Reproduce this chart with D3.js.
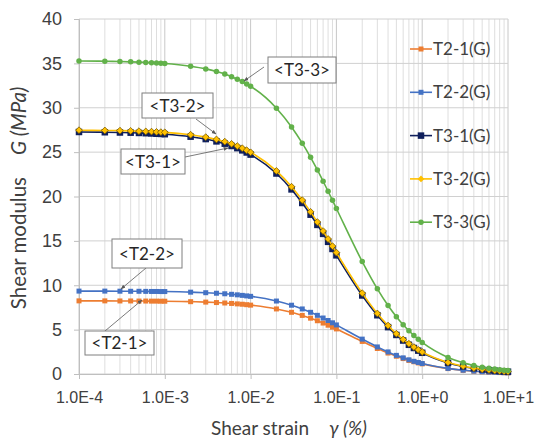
<!DOCTYPE html>
<html><head><meta charset="utf-8">
<script src="https://cdn.jsdelivr.net/npm/d3@7"></script>
<style>body{margin:0;background:#fff}svg{font-family:Lato,"Open Sans",sans-serif}</style>
</head><body><svg id="c" width="535" height="444"></svg>
<script>
// ---- data ----
const strains = [0.0001,0.0002,0.0003,0.0004,0.0005,0.0006,0.0007,0.0008,0.0009,
  0.001,0.002,0.003,0.004,0.005,0.006,0.007,0.008,0.009,
  0.01,0.02,0.03,0.04,0.05,0.06,0.07,0.08,0.09,
  0.1,0.2,0.3,0.4,0.5,0.6,0.7,0.8,0.9,
  1,2,3,4,5,6,7,8,9,10];
const seriesNames = ["T2-1(G)","T2-2(G)","T3-1(G)","T3-2(G)","T3-3(G)"];
const t21 = [8.24,8.24,8.23,8.23,8.22,8.22,8.21,8.21,8.20,
  8.20,8.15,8.10,8.05,8.00,7.95,7.90,7.86,7.81,
  7.76,7.33,6.95,6.60,6.29,6.00,5.74,5.50,5.28,
  5.08,3.67,2.87,2.36,2.00,1.74,1.53,1.38,1.25,
  1.14,0.61,0.42,0.32,0.26,0.21,0.18,0.16,0.15,0.13];
const t22 = [9.34,9.34,9.33,9.32,9.32,9.31,9.30,9.30,9.29,
  9.29,9.22,9.16,9.10,9.04,8.98,8.92,8.86,8.80,
  8.75,8.22,7.75,7.33,6.95,6.61,6.31,6.03,5.77,
  5.53,3.93,3.05,2.49,2.10,1.82,1.60,1.43,1.30,
  1.18,0.63,0.43,0.33,0.26,0.22,0.19,0.17,0.15,0.14];
const t31 = [27.27,27.24,27.21,27.19,27.16,27.13,27.10,27.07,27.05,
  27.02,26.74,26.47,26.21,25.95,25.69,25.45,25.20,24.96,
  24.72,22.59,20.80,19.27,17.95,16.80,15.79,14.89,14.09,
  13.37,8.85,6.62,5.28,4.40,3.77,3.29,2.93,2.63,
  2.39,1.25,0.85,0.64,0.51,0.43,0.37,0.32,0.29,0.26];
const t32 = [27.47,27.44,27.42,27.39,27.36,27.33,27.31,27.28,27.25,
  27.23,26.96,26.69,26.43,26.18,25.93,25.68,25.44,25.21,
  24.98,22.88,21.10,19.59,18.27,17.12,16.11,15.21,14.41,
  13.68,9.11,6.82,5.46,4.54,3.89,3.41,3.03,2.73,
  2.48,1.30,0.88,0.66,0.53,0.45,0.38,0.34,0.30,0.27];
const t33 = [35.27,35.24,35.21,35.17,35.14,35.11,35.08,35.05,35.02,
  34.99,34.68,34.38,34.08,33.79,33.50,33.22,32.95,32.67,
  32.41,29.95,27.84,26.01,24.41,22.99,21.72,20.59,19.57,
  18.65,12.67,9.60,7.72,6.46,5.55,4.87,4.34,3.91,
  3.56,1.87,1.27,0.96,0.77,0.65,0.56,0.49,0.43,0.39];
const yTicks = [0,5,10,15,20,25,30,35,40];
const xTickValues = [1e-4,1e-3,1e-2,1e-1,1,10];
const xTickLabels = ["1.0E-4","1.0E-3","1.0E-2","1.0E-1","1.0E+0","1.0E+1"];
const calloutLabels = ["<T3-3>","<T3-2>","<T3-1>","<T2-2>","<T2-1>"];

// ---- styles ----
const styles = {
  "T2-1(G)": {color:"#ED7D31", shape:"square", size:5},
  "T2-2(G)": {color:"#4472C4", shape:"square", size:5},
  "T3-1(G)": {color:"#0F1F5C", shape:"square", size:6.5},
  "T3-2(G)": {color:"#FFC000", shape:"diamond", size:7},
  "T3-3(G)": {color:"#62B14A", shape:"circle", size:5.5}
};
const boxes = {
  "<T3-3>": {x:268,y:57,w:68,h:26, tx:244,ty:81, fx:264,fy:67},
  "<T3-2>": {x:142,y:93,w:71,h:25, tx:216,ty:134, fx:196,fy:119},
  "<T3-1>": {x:121,y:149,w:64,h:25, tx:228,ty:148, fx:185,fy:157},
  "<T2-2>": {x:112,y:239,w:70,h:29, tx:121,ty:289, fx:146,fy:268},
  "<T2-1>": {x:85,y:331,w:69,h:24, tx:142,ty:300, fx:105,fy:331}
};

const svg = d3.select("#c");
const L=79, R=508, T=19, B=374;
const x = d3.scaleLog().domain([1e-4,10]).range([L,R]);
const y = d3.scaleLinear().domain([0,40]).range([B,T]);

// grid
const minor = [];
for (let e=-4;e<1;e++) for (let m=1;m<=9;m++) minor.push(m*Math.pow(10,e));
minor.push(10);
svg.append("g").selectAll("line").data(minor).join("line")
  .attr("x1",d=>x(d)).attr("x2",d=>x(d)).attr("y1",T).attr("y2",B)
  .attr("stroke",d=>xTickValues.some(v=>Math.abs(v/d-1)<1e-6)?"#c8c8c8":"#dedede").attr("stroke-width",1);
svg.append("g").selectAll("line").data(yTicks).join("line")
  .attr("x1",L).attr("x2",R).attr("y1",d=>y(d)).attr("y2",d=>y(d))
  .attr("stroke","#d0d0d0").attr("stroke-width",1);

// axes
const xAxis = d3.axisBottom(x).tickValues(xTickValues).tickFormat((d,i)=>xTickLabels[i]).tickSizeOuter(0).tickSize(5).tickPadding(13);
const gx = svg.append("g").attr("transform",`translate(0,${B})`).call(xAxis);
gx.select(".domain").attr("stroke","#bfbfbf");
gx.selectAll(".tick line").attr("stroke","#bfbfbf");
gx.selectAll("text").attr("font-size",16).attr("fill","#404040");
const yAxis = d3.axisLeft(y).tickValues(yTicks).tickSizeOuter(0).tickSize(5).tickPadding(12);
const gy = svg.append("g").attr("transform",`translate(${L},0)`).call(yAxis);
gy.select(".domain").attr("stroke","#bfbfbf");
gy.selectAll(".tick line").attr("stroke","#bfbfbf");
gy.selectAll("text").attr("font-size",18).attr("fill","#404040");

// titles
const xt = svg.append("text").attr("x",289).attr("y",435).attr("text-anchor","middle").attr("font-size",19).attr("fill","#404040");
xt.append("tspan").text("Shear strain");
xt.append("tspan").attr("dx",20).attr("font-style","italic").text("γ (%)");
const yt = svg.append("text").attr("transform","translate(26,198) rotate(-90)").attr("text-anchor","middle").attr("font-size",20.5).attr("fill","#404040");
yt.append("tspan").text("Shear modulus");
yt.append("tspan").attr("dx",22).attr("font-style","italic").text("G (MPa)");

// series
const all = {"T2-1(G)":t21,"T2-2(G)":t22,"T3-1(G)":t31,"T3-2(G)":t32,"T3-3(G)":t33};
const line = d3.line().x(d=>x(d[0])).y(d=>y(d[1])).curve(d3.curveMonotoneX);
function marker(g, shape, size, color, stroke){
  let sym = shape==="square"?d3.symbolSquare:shape==="diamond"?d3.symbolDiamond2:d3.symbolCircle;
  let area = shape==="circle"? Math.PI*(size/2)*(size/2) : size*size;
  if(shape==="diamond") area = size*size*0.6;
  g.append("path").attr("d",d3.symbol(sym,area)()).attr("fill",color)
    .attr("stroke",stroke||"none").attr("stroke-width",stroke?0.8:0);
}
seriesNames.forEach(name=>{
  const st = styles[name];
  const pts = strains.map((s,i)=>[s, all[name][i]]);
  const g = svg.append("g");
  g.append("path").datum(pts).attr("d",line).attr("fill","none").attr("stroke",st.color).attr("stroke-width",1.6);
  pts.forEach(p=>{
    const mg = g.append("g").attr("transform",`translate(${x(p[0])},${y(p[1])})`);
    marker(mg, st.shape, st.size, st.color, name==="T3-2(G)"?"#7a5c00":null);
  });
});

// legend
seriesNames.forEach((name,i)=>{
  const st = styles[name];
  const cy = 49 + i*43.3;
  const g = svg.append("g");
  g.append("line").attr("x1",410).attr("x2",432).attr("y1",cy).attr("y2",cy).attr("stroke",st.color).attr("stroke-width",1.6);
  const mg = g.append("g").attr("transform",`translate(421,${cy})`);
  marker(mg, st.shape, st.size, st.color, null);
  g.append("text").attr("x",433).attr("y",cy+6).attr("font-size",17).attr("fill","#404040").text(name);
});

// callouts
svg.append("defs").append("marker").attr("id","ah").attr("viewBox","0 0 10 10").attr("refX",9).attr("refY",5)
  .attr("markerWidth",6).attr("markerHeight",6).attr("orient","auto")
  .append("path").attr("d","M0,1 L10,5 L0,9 z").attr("fill","#595959");
calloutLabels.forEach(lbl=>{
  const b = boxes[lbl];
  svg.append("line").attr("x1",b.fx).attr("y1",b.fy).attr("x2",b.tx).attr("y2",b.ty)
    .attr("stroke","#595959").attr("stroke-width",0.8).attr("marker-end","url(#ah)");
  svg.append("rect").attr("x",b.x).attr("y",b.y).attr("width",b.w).attr("height",b.h)
    .attr("fill","#fff").attr("stroke","#7f7f7f").attr("stroke-width",1);
  svg.append("text").attr("x",b.x+b.w/2).attr("y",b.y+b.h/2+6).attr("text-anchor","middle")
    .attr("font-size",17).attr("fill","#262626").text(lbl);
});
</script></body></html>
